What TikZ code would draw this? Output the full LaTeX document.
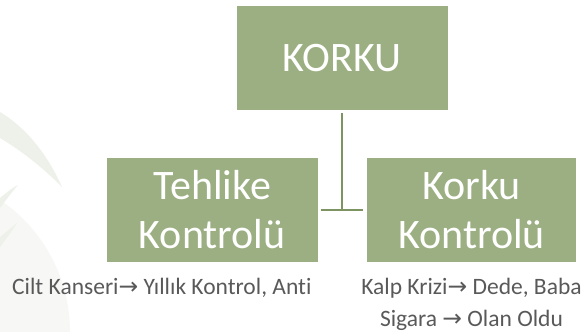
\documentclass[tikz,border=0pt]{standalone}
\usepackage{fontspec}
\setmainfont[Ligatures=NoCommon]{Carlito}
\newfontfamily\arrowfont{DejaVu Sans}
\definecolor{boxgreen}{HTML}{9BAF82}
\definecolor{linegreen}{HTML}{7E9362}
\definecolor{captiongray}{HTML}{595959}
\definecolor{leafa}{HTML}{EEF1EA}
\definecolor{leafb}{HTML}{F7F8F5}
\newcommand{\arr}{{\arrowfont\char"2192}}
\tikzset{
  chartbox/.style={fill=boxgreen, draw=none, text=white, align=center,
    font=\fontsize{42}{49}\selectfont, inner sep=0pt},
  caption/.style={text=captiongray, font=\fontsize{23.5}{32}\selectfont, inner sep=0pt},
  connector/.style={draw=linegreen, line width=1.8pt}
}
\begin{document}
\begin{tikzpicture}[x=1pt,y=-1pt]
\useasboundingbox (0,0) rectangle (584,332);
% faint background decoration
\fill[leafb] (-90,332) circle[radius=160];
\fill[leafa] (0,112) .. controls (30,130) and (50,160) .. (62,187)
  .. controls (40,165) and (20,150) .. (0,138) -- cycle;
\fill[leafa] (0,198) .. controls (6,193) and (12,188) .. (18,185)
  .. controls (12,192) and (6,200) .. (0,208) -- cycle;
\fill[leafa] (0,237) .. controls (6,232) and (12,227) .. (17,223)
  .. controls (12,231) and (6,239) .. (0,247) -- cycle;
% boxes
\node[chartbox, minimum width=211.5pt, minimum height=104pt] (korku) at (342.25,58) {KORKU};
\node[chartbox, minimum width=211.5pt, minimum height=104pt] (tehlike) at (212.25,210) {Tehlike\\Kontrolü};
\node[chartbox, minimum width=209pt, minimum height=104pt] (kontrol) at (471.5,210) {Korku\\Kontrolü};
% connectors
\coordinate (junction) at (korku.south |- tehlike.east);
\draw[connector, shorten <=3pt] (korku.south) -- (junction);
\draw[connector, shorten <=3pt, shorten >=3.5pt] (tehlike.east) -- (kontrol.west);
% captions
\node[caption, anchor=base west] (cap1) at (12,294) {Cilt Kanseri\arr{} Yıllık Kontrol, Anti};
\node[caption, anchor=base, align=center] (cap2) at (471.5,326) {Kalp Krizi\arr{} Dede, Baba\\Sigara \arr{} Olan Oldu};
\end{tikzpicture}
\end{document}
